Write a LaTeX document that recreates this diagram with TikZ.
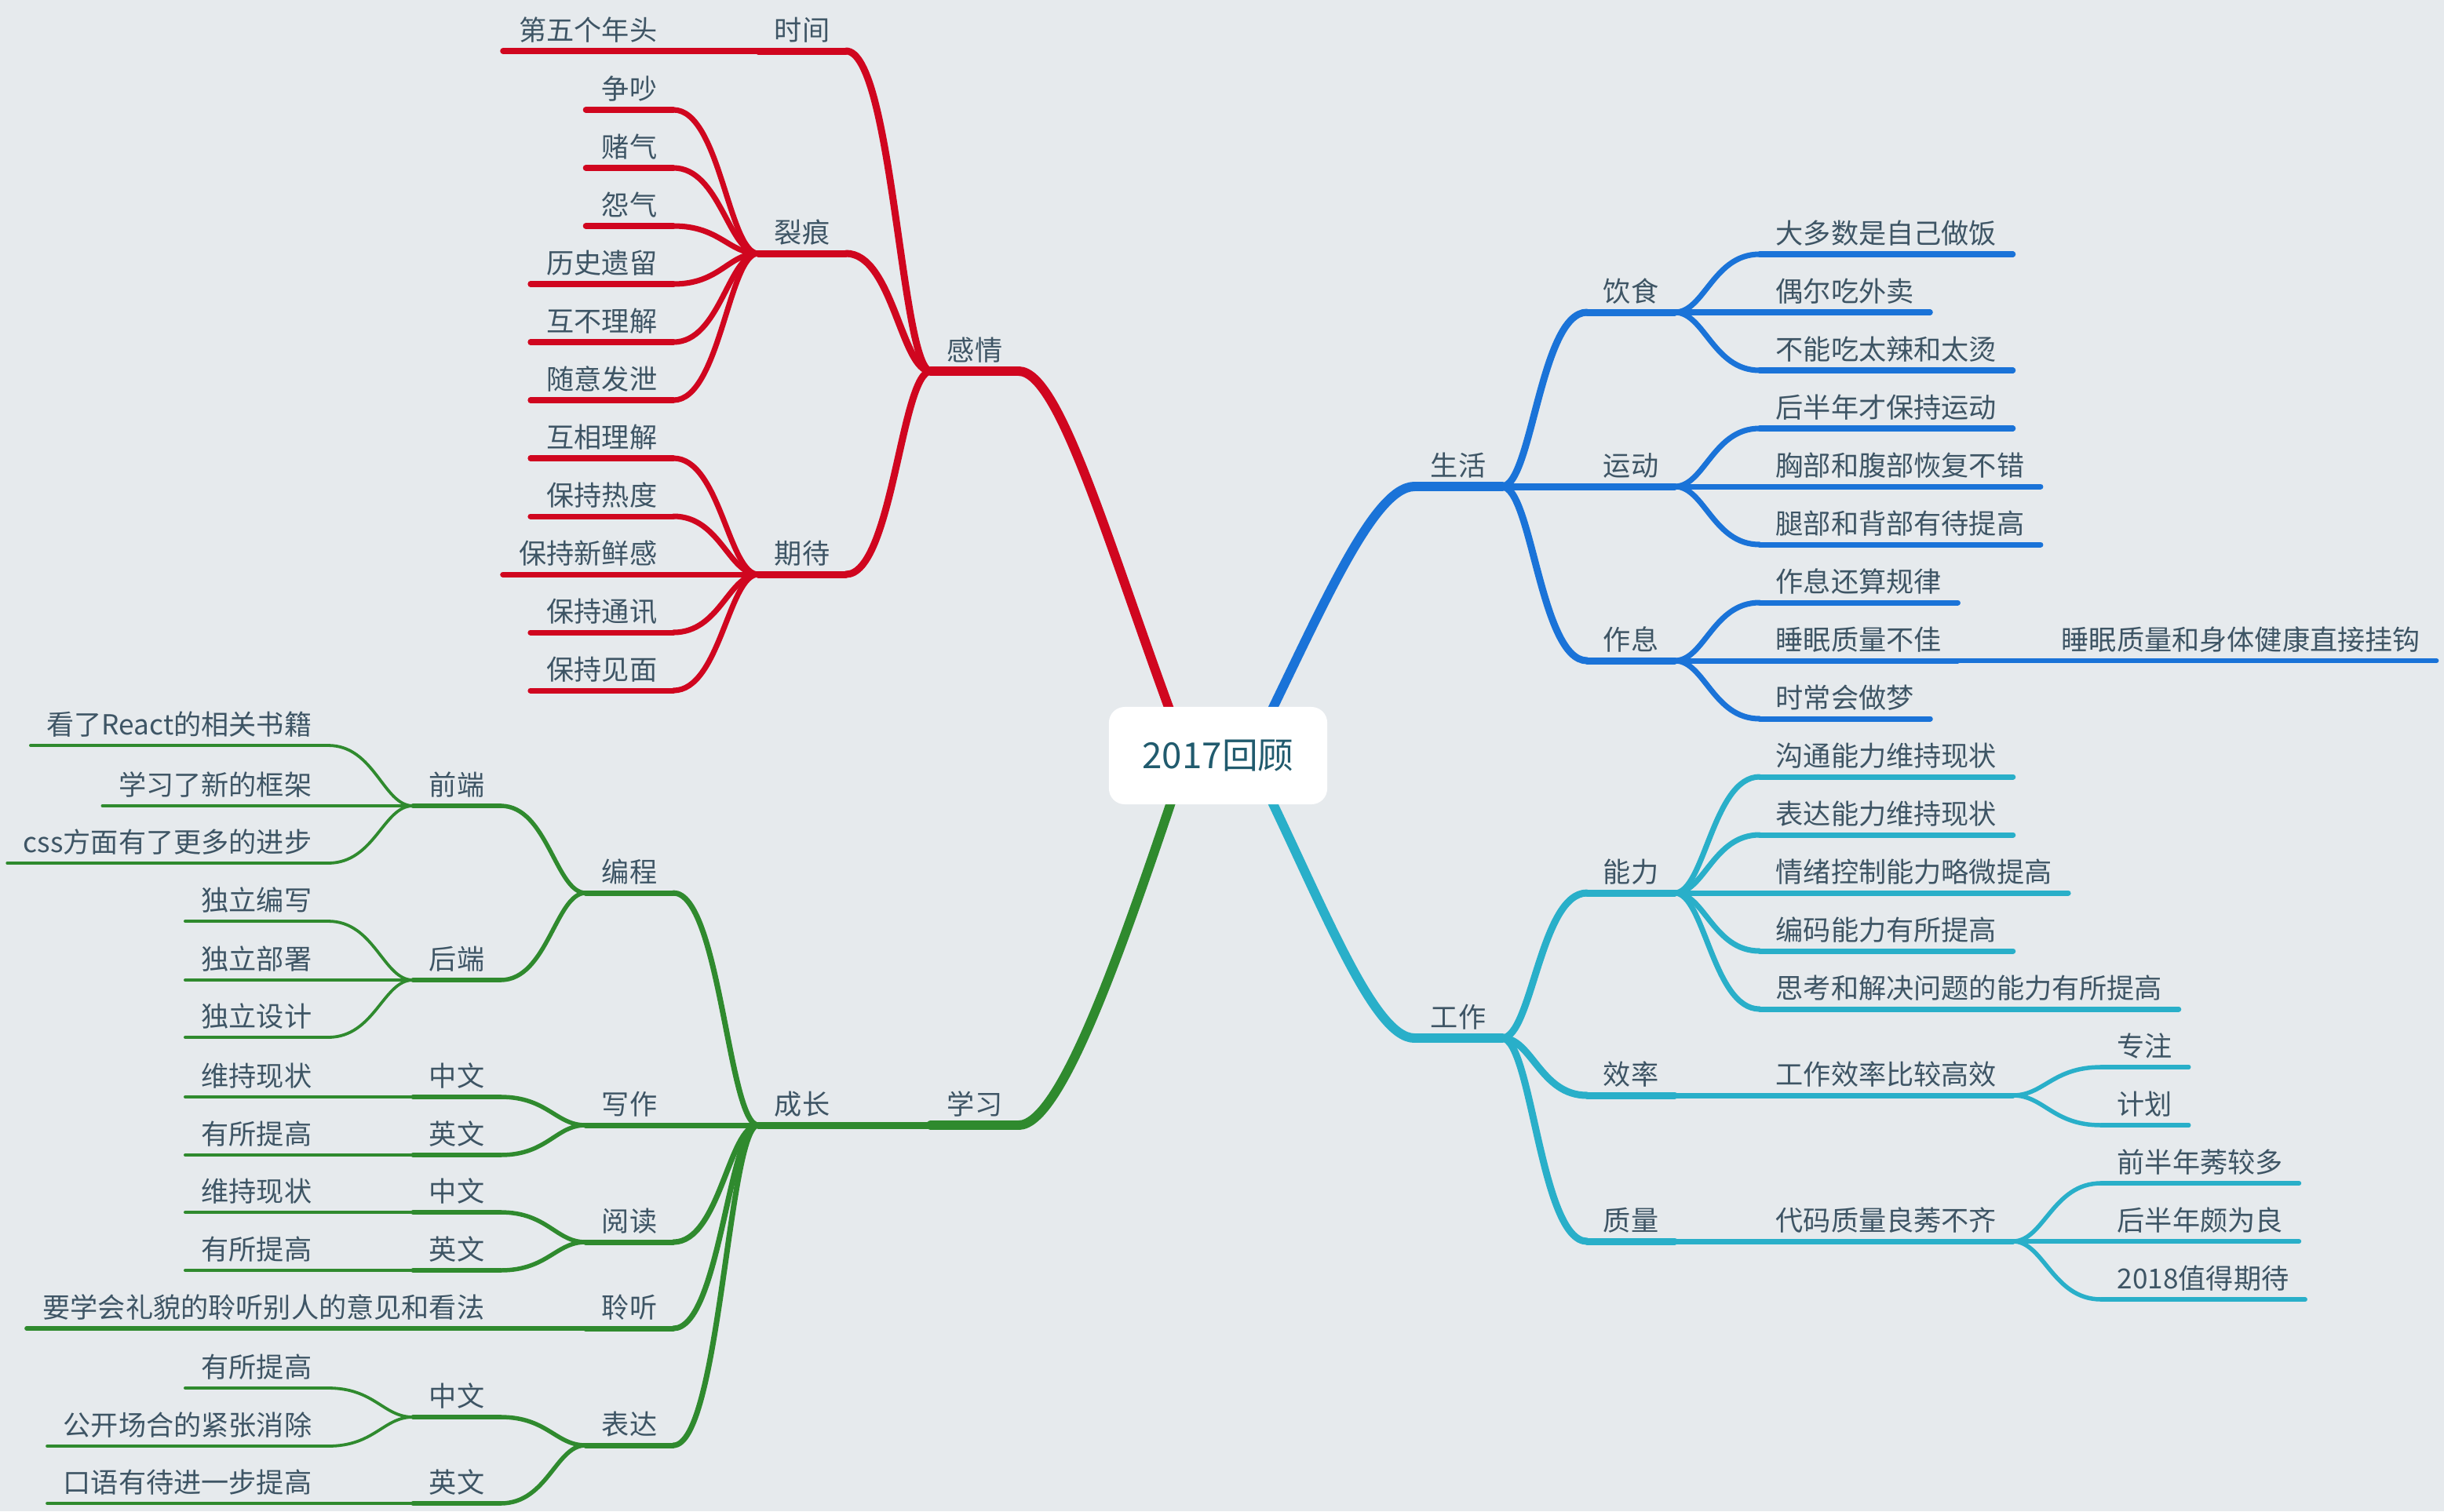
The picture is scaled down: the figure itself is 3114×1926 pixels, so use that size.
\documentclass[tikz,border=0pt]{standalone}
\usepackage{fontspec}
\setmainfont{Noto Sans CJK SC}
\usetikzlibrary{calc}
\definecolor{bgc}{HTML}{E6EAED}
\definecolor{txt}{HTML}{3E5565}
\definecolor{roottxt}{HTML}{215B6E}
\definecolor{cred}{HTML}{D0061F}
\definecolor{cblue}{HTML}{1A73D8}
\definecolor{cteal}{HTML}{29AFC9}
\definecolor{cgreen}{HTML}{2F8A2E}
\pgfdeclarelayer{bgl}
\pgfdeclarelayer{lines}
\pgfsetlayers{bgl,lines,main}
\newcommand\mmcv[3]{\draw[#1] let \p1=(#2), \p2=(#3) in (\p1) .. controls ({\x1+0.55*(\x2-\x1)},\y1) and ({\x2-0.35*(\x2-\x1)},\y2) .. (\p2);}
\newcommand\mmul[2]{\draw[#1] (#2.south west) -- (#2.south east);}
\tikzset{
  lbl/.style={inner xsep=0.2cm, inner ysep=0.13cm, text depth=0pt, text=txt,
    font=\fontsize{10pt}{12pt}\selectfont, anchor=south},
  lw/.style={anchor=south west},
  le/.style={anchor=south east},
  rootbox/.style={fill=white, rounded corners=0.2cm, minimum width=2.78cm, minimum height=1.24cm,
    text=roottxt, font=\fontsize{13pt}{15pt}\selectfont, inner sep=0pt},
  dA/.style={line width=3.4pt, line cap=round},
  dB/.style={line width=2.56pt, line cap=round},
  dC/.style={line width=2.0pt, line cap=round},
  dD/.style={line width=1.56pt, line cap=round},
  dE/.style={line width=1.08pt, line cap=round},
}
\begin{document}
\begin{tikzpicture}[x=0.01cm,y=-0.01cm]
\begin{pgfonlayer}{bgl}
\fill[bgc] (0,0) rectangle (3114,1926);
\end{pgfonlayer}
\useasboundingbox (0,0) rectangle (3114,1926);

\node[rootbox] (root) at (1552,963) {2017回顾};

% ---------- red ----------
\node[lbl] (gq) at (1242,473) {感情};
\node[lbl] (sj) at (1022,65) {时间};
\node[lbl] (lh) at (1022,323) {裂痕};
\node[lbl] (qd) at (1022,732) {期待};
\node[lbl,le] (r1) at (858,65) {第五个年头};
\node[lbl,le] (r2) at (858,140) {争吵};
\node[lbl,le] (r3) at (858,214) {赌气};
\node[lbl,le] (r4) at (858,288) {怨气};
\node[lbl,le] (r5) at (858,362) {历史遗留};
\node[lbl,le] (r6) at (858,436) {互不理解};
\node[lbl,le] (r7) at (858,510) {随意发泄};
\node[lbl,le] (r8) at (858,584) {互相理解};
\node[lbl,le] (r9) at (858,658) {保持热度};
\node[lbl,le] (r10) at (858,732) {保持新鲜感};
\node[lbl,le] (r11) at (858,806) {保持通讯};
\node[lbl,le] (r12) at (858,880) {保持见面};

% ---------- blue ----------
\node[lbl] (sh) at (1858,620) {生活};
\node[lbl] (ys) at (2078,398) {饮食};
\node[lbl] (yd) at (2078,620) {运动};
\node[lbl] (zx) at (2078,842) {作息};
\node[lbl,lw] (b1) at (2242,324) {大多数是自己做饭};
\node[lbl,lw] (b2) at (2242,398) {偶尔吃外卖};
\node[lbl,lw] (b3) at (2242,472) {不能吃太辣和太烫};
\node[lbl,lw] (b4) at (2242,546) {后半年才保持运动};
\node[lbl,lw] (b5) at (2242,620) {胸部和腹部恢复不错};
\node[lbl,lw] (b6) at (2242,694) {腿部和背部有待提高};
\node[lbl,lw] (b7) at (2242,768) {作息还算规律};
\node[lbl,lw] (b8) at (2242,842) {睡眠质量不佳};
\node[lbl,lw] (b9) at (2242,916) {时常会做梦};
\node[lbl,lw] (b10) at (2606,842) {睡眠质量和身体健康直接挂钩};

% ---------- teal ----------
\node[lbl] (gz) at (1858,1323) {工作};
\node[lbl] (nl) at (2078,1138) {能力};
\node[lbl] (xl) at (2078,1396) {效率};
\node[lbl] (zl) at (2078,1582) {质量};
\node[lbl,lw] (t1) at (2242,990) {沟通能力维持现状};
\node[lbl,lw] (t2) at (2242,1064) {表达能力维持现状};
\node[lbl,lw] (t3) at (2242,1138) {情绪控制能力略微提高};
\node[lbl,lw] (t4) at (2242,1212) {编码能力有所提高};
\node[lbl,lw] (t5) at (2242,1286) {思考和解决问题的能力有所提高};
\node[lbl,lw] (t6) at (2242,1396) {工作效率比较高效};
\node[lbl,lw] (t7) at (2677,1360) {专注};
\node[lbl,lw] (t8) at (2677,1434) {计划};
\node[lbl,lw] (t9) at (2242,1582) {代码质量良莠不齐};
\node[lbl,lw] (t10) at (2677,1508) {前半年莠较多};
\node[lbl,lw] (t11) at (2677,1582) {后半年颇为良};
\node[lbl,lw] (t12) at (2677,1656) {2018值得期待};

% ---------- green ----------
\node[lbl] (xx) at (1242,1434) {学习};
\node[lbl] (cz) at (1022,1434) {成长};
\node[lbl] (bc) at (802,1138) {编程};
\node[lbl] (xz) at (802,1434) {写作};
\node[lbl] (yu) at (802,1583) {阅读};
\node[lbl] (lt) at (802,1693) {聆听};
\node[lbl] (bd) at (802,1842) {表达};
\node[lbl] (qy) at (582,1027) {前端};
\node[lbl] (hy) at (582,1249) {后端};
\node[lbl] (zw1) at (582,1398) {中文};
\node[lbl] (yw1) at (582,1472) {英文};
\node[lbl] (zw2) at (582,1545) {中文};
\node[lbl] (yw2) at (582,1619) {英文};
\node[lbl] (zw3) at (582,1806) {中文};
\node[lbl] (yw3) at (582,1916) {英文};
\node[lbl,le] (g1) at (418,950) {看了React的相关书籍};
\node[lbl,le] (g2) at (418,1027) {学习了新的框架};
\node[lbl,le] (g3) at (418,1100) {css方面有了更多的进步};
\node[lbl,le] (g4) at (418,1174) {独立编写};
\node[lbl,le] (g5) at (418,1249) {独立部署};
\node[lbl,le] (g6) at (418,1322) {独立设计};
\node[lbl,le] (g7) at (418,1398) {维持现状};
\node[lbl,le] (g8) at (418,1472) {有所提高};
\node[lbl,le] (g9) at (418,1545) {维持现状};
\node[lbl,le] (g10) at (418,1619) {有所提高};
\node[lbl,le] (g11) at (638,1693) {要学会礼貌的聆听别人的意见和看法};
\node[lbl,le] (g12) at (418,1769) {有所提高};
\node[lbl,le] (g13) at (418,1843) {公开场合的紧张消除};
\node[lbl,le] (g14) at (418,1916) {口语有待进一步提高};

\begin{pgfonlayer}{lines}
% main branches
\draw[cred,dA] (gq.south east) .. controls +(55,0) and +(-95,-250) .. ($(root)+(-40,0)$);
\draw[cblue,dA] (sh.south west) .. controls +(-55,0) and +(85,-170) .. ($(root)+(40,0)$);
\draw[cgreen,dA] (xx.south east) .. controls +(55,0) and +(-80,240) .. ($(root)+(-40,0)$);
\draw[cteal,dA] (gz.south west) .. controls +(-55,0) and +(88,175) .. ($(root)+(40,0)$);
\mmul{cred,dA}{gq}
\mmul{cblue,dA}{sh}
\mmul{cteal,dA}{gz}
\mmul{cgreen,dA}{xx}

% red
\foreach \k in {sj,lh,qd}{\mmcv{cred,dB}{\k.south east}{gq.south west}\mmul{cred,dB}{\k}}
\mmcv{cred,dC}{r1.south east}{sj.south west}
\foreach \k in {r2,r3,r4,r5,r6,r7}{\mmcv{cred,dC}{\k.south east}{lh.south west}}
\foreach \k in {r8,r9,r10,r11,r12}{\mmcv{cred,dC}{\k.south east}{qd.south west}}
\foreach \k in {r1,r2,r3,r4,r5,r6,r7,r8,r9,r10,r11,r12}{\mmul{cred,dC}{\k}}

% blue
\foreach \k in {ys,yd,zx}{\mmcv{cblue,dB}{\k.south west}{sh.south east}\mmul{cblue,dB}{\k}}
\foreach \k in {b1,b2,b3}{\mmcv{cblue,dC}{\k.south west}{ys.south east}}
\foreach \k in {b4,b5,b6}{\mmcv{cblue,dC}{\k.south west}{yd.south east}}
\foreach \k in {b7,b8,b9}{\mmcv{cblue,dC}{\k.south west}{zx.south east}}
\foreach \k in {b1,b2,b3,b4,b5,b6,b7,b8,b9}{\mmul{cblue,dC}{\k}}
\mmcv{cblue,dD}{b10.south west}{b8.south east}
\mmul{cblue,dD}{b10}

% teal
\foreach \k in {nl,xl,zl}{\mmcv{cteal,dB}{\k.south west}{gz.south east}\mmul{cteal,dB}{\k}}
\foreach \k in {t1,t2,t3,t4,t5}{\mmcv{cteal,dC}{\k.south west}{nl.south east}}
\mmcv{cteal,dC}{t6.south west}{xl.south east}
\mmcv{cteal,dC}{t9.south west}{zl.south east}
\foreach \k in {t1,t2,t3,t4,t5,t6,t9}{\mmul{cteal,dC}{\k}}
\foreach \k in {t7,t8}{\mmcv{cteal,dD}{\k.south west}{t6.south east}\mmul{cteal,dD}{\k}}
\foreach \k in {t10,t11,t12}{\mmcv{cteal,dD}{\k.south west}{t9.south east}\mmul{cteal,dD}{\k}}

% green
\mmcv{cgreen,dB}{cz.south east}{xx.south west}
\mmul{cgreen,dB}{cz}
\foreach \k in {bc,xz,yu,lt,bd}{\mmcv{cgreen,dC}{\k.south east}{cz.south west}\mmul{cgreen,dC}{\k}}
\foreach \k in {qy,hy}{\mmcv{cgreen,dD}{\k.south east}{bc.south west}\mmul{cgreen,dD}{\k}}
\foreach \k in {zw1,yw1}{\mmcv{cgreen,dD}{\k.south east}{xz.south west}\mmul{cgreen,dD}{\k}}
\foreach \k in {zw2,yw2}{\mmcv{cgreen,dD}{\k.south east}{yu.south west}\mmul{cgreen,dD}{\k}}
\foreach \k in {zw3,yw3}{\mmcv{cgreen,dD}{\k.south east}{bd.south west}\mmul{cgreen,dD}{\k}}
\mmcv{cgreen,dD}{g11.south east}{lt.south west}
\mmul{cgreen,dD}{g11}
\foreach \k in {g1,g2,g3}{\mmcv{cgreen,dE}{\k.south east}{qy.south west}}
\foreach \k in {g4,g5,g6}{\mmcv{cgreen,dE}{\k.south east}{hy.south west}}
\mmcv{cgreen,dE}{g7.south east}{zw1.south west}
\mmcv{cgreen,dE}{g8.south east}{yw1.south west}
\mmcv{cgreen,dE}{g9.south east}{zw2.south west}
\mmcv{cgreen,dE}{g10.south east}{yw2.south west}
\mmcv{cgreen,dE}{g12.south east}{zw3.south west}
\mmcv{cgreen,dE}{g13.south east}{zw3.south west}
\mmcv{cgreen,dE}{g14.south east}{yw3.south west}
\foreach \k in {g1,g2,g3,g4,g5,g6,g7,g8,g9,g10,g12,g13,g14}{\mmul{cgreen,dE}{\k}}
\end{pgfonlayer}
\end{tikzpicture}
\end{document}
